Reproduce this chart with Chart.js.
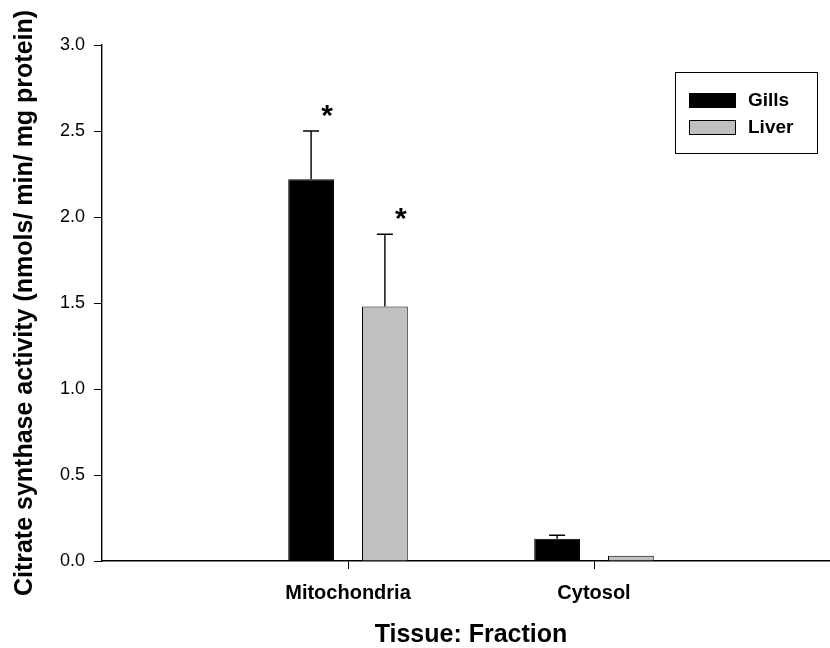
<!DOCTYPE html>
<html>
<head>
<meta charset="utf-8">
<script src="https://cdn.jsdelivr.net/npm/chart.js@4.4.1/dist/chart.umd.min.js"></script>
<style>
  html, body { margin: 0; padding: 0; background: #fff; overflow: hidden; }
  #wrap { width: 852px; height: 648px; }
</style>
</head>
<body>
<div id="wrap"><canvas id="c" width="852" height="648"></canvas></div>
<script>
// ---- data ----
const categories = ['', 'Mitochondria', 'Cytosol', ''];
const gillsValues = [null, 2.22, 0.13, null];
const liverValues = [null, 1.48, 0.03, null];
const gillsErrors = [null, 0.28, 0.02, null];
const liverErrors = [null, 0.42, 0, null];
const gillsSignif = ['', '*', '', ''];
const liverSignif = ['', '*', '', ''];
const yTicks = [0, 0.5, 1.0, 1.5, 2.0, 2.5, 3.0];
const seriesNames = ['Gills', 'Liver'];
const errorSets = [gillsErrors, liverErrors];
const signifSets = [gillsSignif, liverSignif];

const FONT = "'Liberation Sans', Arial, sans-serif";

const errorBarPlugin = {
  id: 'errorBars',
  afterDatasetsDraw(chart) {
    const ctx = chart.ctx;
    const y = chart.scales.y;
    ctx.save();
    chart.data.datasets.forEach((ds, di) => {
      const meta = chart.getDatasetMeta(di);
      meta.data.forEach((bar, i) => {
        const v = ds.data[i];
        if (v === null || v === undefined) return;
        const e = errorSets[di][i];
        let topPx = y.getPixelForValue(v);
        if (e) {
          topPx = y.getPixelForValue(v + e);
          const basePx = y.getPixelForValue(v);
          ctx.strokeStyle = '#000';
          ctx.lineWidth = 1.4;
          ctx.beginPath();
          ctx.moveTo(bar.x, basePx);
          ctx.lineTo(bar.x, topPx);
          ctx.moveTo(bar.x - 8, topPx);
          ctx.lineTo(bar.x + 8, topPx);
          ctx.stroke();
        }
        const s = signifSets[di][i];
        if (s) {
          ctx.fillStyle = '#000';
          ctx.font = 'bold 30px ' + FONT;
          ctx.textAlign = 'center';
          ctx.textBaseline = 'middle';
          ctx.fillText(s, bar.x + 16, topPx - 14);
        }
      });
    });
    ctx.restore();
  }
};

const boxLegendPlugin = {
  id: 'boxLegend',
  afterDraw(chart) {
    const ctx = chart.ctx;
    const bx = 675, by = 72, bw = 142, bh = 81;
    ctx.save();
    ctx.fillStyle = '#fff';
    ctx.fillRect(bx, by, bw, bh);
    ctx.strokeStyle = '#000';
    ctx.lineWidth = 1;
    ctx.strokeRect(bx + 0.5, by + 0.5, bw, bh);
    chart.data.datasets.forEach((ds, i) => {
      const sy = 93 + i * 27;
      ctx.fillStyle = ds.backgroundColor;
      ctx.fillRect(689, sy, 47, 15);
      ctx.strokeStyle = '#000';
      ctx.lineWidth = 1;
      ctx.strokeRect(689.5, sy + 0.5, 46, 14);
      ctx.fillStyle = '#000';
      ctx.font = 'bold 19px ' + FONT;
      ctx.textAlign = 'left';
      ctx.textBaseline = 'middle';
      ctx.fillText(ds.label, 748, sy + 8);
    });
    ctx.restore();
  }
};

new Chart(document.getElementById('c'), {
  type: 'bar',
  data: {
    labels: categories,
    datasets: [
      { label: seriesNames[0], data: gillsValues, backgroundColor: '#000000', borderColor: '#000000', borderWidth: 1 },
      { label: seriesNames[1], data: liverValues, backgroundColor: '#c0c0c0', borderColor: '#000000', borderWidth: 1 }
    ]
  },
  options: {
    responsive: false,
    animation: false,
    layout: { padding: { top: 45, right: 0, left: 0, bottom: 0 } },
    datasets: { bar: { categoryPercentage: 0.6, barPercentage: 0.62 } },
    plugins: { legend: { display: false }, tooltip: { enabled: false } },
    scales: {
      x: {
        offset: false,
        grid: { offset: false, drawOnChartArea: false, drawTicks: true, tickLength: 8,
                tickColor: (c) => (c.index === 1 || c.index === 2) ? '#000' : 'rgba(0,0,0,0)' },
        border: { display: true, color: '#000', width: 1.4 },
        ticks: { color: '#000', font: { family: FONT, size: 20, weight: 'bold' }, padding: 12, maxRotation: 0, autoSkip: false },
        title: { display: true, text: 'Tissue: Fraction', color: '#000',
                 font: { family: FONT, size: 25, weight: 'bold', lineHeight: 1 }, padding: { top: 0, bottom: 0 } },
        afterFit: (s) => { s.height = 87; }
      },
      y: {
        min: 0, max: 3,
        afterBuildTicks: (s) => { s.ticks = yTicks.map(v => ({ value: v })); },
        grid: { drawOnChartArea: false, drawTicks: true, tickLength: 8, tickColor: '#000' },
        border: { display: true, color: '#000', width: 1.4 },
        ticks: { color: '#000', font: { family: FONT, size: 18 }, padding: 9,
                 callback: (v) => Number(v).toFixed(1) },
        title: { display: true, text: 'Citrate synthase activity (nmols/ min/ mg protein)', color: '#000',
                 font: { family: FONT, size: 25, weight: 'bold', lineHeight: 1 }, padding: { top: 13, bottom: 0 } },
        afterFit: (s) => { s.width = 102; }
      }
    }
  },
  plugins: [errorBarPlugin, boxLegendPlugin]
});
</script>
</body>
</html>
